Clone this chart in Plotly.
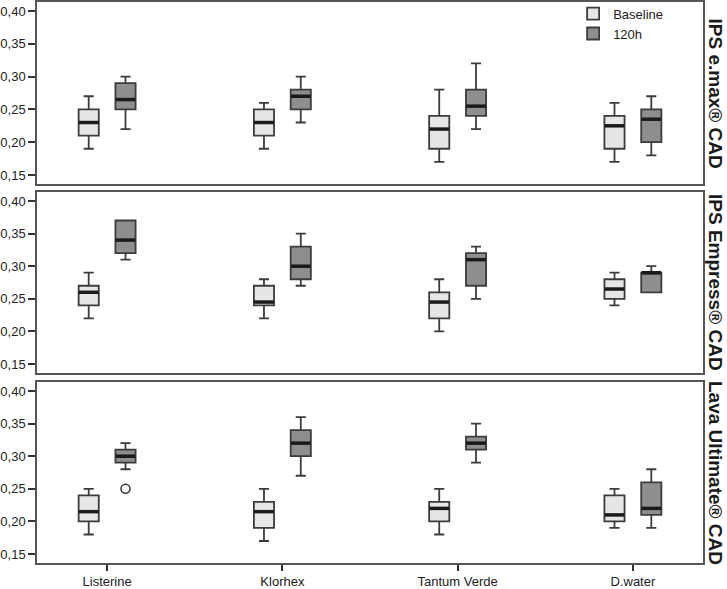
import plotly.graph_objects as go

# categories and panels
categories = ['Listerine', 'Klorhex', 'Tantum Verde', 'D.water']
panels = ['IPS e.max® CAD', 'IPS Empress® CAD', 'Lava Ultimate® CAD']

# box stats per panel: [low whisker, q1, median, q3, high whisker] per category
emax_base_low = [0.19, 0.19, 0.17, 0.17]
emax_base_q1 = [0.21, 0.21, 0.19, 0.19]
emax_base_med = [0.23, 0.23, 0.22, 0.225]
emax_base_q3 = [0.25, 0.25, 0.24, 0.24]
emax_base_high = [0.27, 0.26, 0.28, 0.26]
emax_120_low = [0.22, 0.23, 0.22, 0.18]
emax_120_q1 = [0.25, 0.25, 0.24, 0.20]
emax_120_med = [0.265, 0.27, 0.255, 0.235]
emax_120_q3 = [0.29, 0.28, 0.28, 0.25]
emax_120_high = [0.30, 0.30, 0.32, 0.27]

empress_base_low = [0.22, 0.22, 0.20, 0.24]
empress_base_q1 = [0.24, 0.24, 0.22, 0.25]
empress_base_med = [0.26, 0.245, 0.245, 0.265]
empress_base_q3 = [0.27, 0.27, 0.26, 0.28]
empress_base_high = [0.29, 0.28, 0.28, 0.29]
empress_120_low = [0.31, 0.27, 0.25, 0.26]
empress_120_q1 = [0.32, 0.28, 0.27, 0.26]
empress_120_med = [0.34, 0.30, 0.31, 0.29]
empress_120_q3 = [0.37, 0.33, 0.32, 0.29]
empress_120_high = [0.37, 0.35, 0.33, 0.30]

lava_base_low = [0.18, 0.17, 0.18, 0.19]
lava_base_q1 = [0.20, 0.19, 0.20, 0.20]
lava_base_med = [0.215, 0.215, 0.22, 0.21]
lava_base_q3 = [0.24, 0.23, 0.23, 0.24]
lava_base_high = [0.25, 0.25, 0.25, 0.25]
lava_120_low = [0.28, 0.27, 0.29, 0.19]
lava_120_q1 = [0.29, 0.30, 0.31, 0.21]
lava_120_med = [0.30, 0.32, 0.32, 0.22]
lava_120_q3 = [0.31, 0.34, 0.33, 0.26]
lava_120_high = [0.32, 0.36, 0.35, 0.28]

# outliers (panel index, category index, value)
outlier_panel = [2]
outlier_cat = [0]
outlier_val = [0.25]

stats = [
    [(emax_base_low, emax_base_q1, emax_base_med, emax_base_q3, emax_base_high),
     (emax_120_low, emax_120_q1, emax_120_med, emax_120_q3, emax_120_high)],
    [(empress_base_low, empress_base_q1, empress_base_med, empress_base_q3, empress_base_high),
     (empress_120_low, empress_120_q1, empress_120_med, empress_120_q3, empress_120_high)],
    [(lava_base_low, lava_base_q1, lava_base_med, lava_base_q3, lava_base_high),
     (lava_120_low, lava_120_q1, lava_120_med, lava_120_q3, lava_120_high)],
]

series_names = ['Baseline', '120h']
fills = ['#e6e6e6', '#8e8e8e']
offsets = [-0.105, 0.105]
box_w = 0.115
edge = '#3c3c3c'

domains = [[0.6756, 1.0], [0.3387, 0.6613], [0.0, 0.3226]]

fig = go.Figure()

for p in range(3):
    xa = 'x' if p == 0 else 'x%d' % (p + 1)
    ya = 'y' if p == 0 else 'y%d' % (p + 1)
    for s in range(2):
        low, q1, med, q3, high = stats[p][s]
        xs = [i + offsets[s] for i in range(len(categories))]
        fig.add_trace(go.Box(
            x=xs, q1=q1, median=med, q3=q3, lowerfence=low, upperfence=high,
            width=box_w, whiskerwidth=0.5,
            fillcolor=fills[s], line=dict(color=edge, width=1.8),
            name=series_names[s], showlegend=(p == 0), legendgroup=series_names[s],
            xaxis=xa, yaxis=ya, hoverinfo='skip'))
        # thick median bars
        fig.add_trace(go.Scatter(
            x=xs, y=med, mode='markers',
            marker=dict(symbol='line-ew', size=14,
                        line=dict(color='#1a1a1a', width=3.5)),
            showlegend=False, xaxis=xa, yaxis=ya, hoverinfo='skip'))

# outlier points
for k in range(len(outlier_val)):
    p = outlier_panel[k]
    xa = 'x' if p == 0 else 'x%d' % (p + 1)
    ya = 'y' if p == 0 else 'y%d' % (p + 1)
    fig.add_trace(go.Scatter(
        x=[outlier_cat[k] + offsets[1]], y=[outlier_val[k]], mode='markers',
        marker=dict(symbol='circle-open', size=9, color='#3c3c3c',
                    line=dict(width=1.6)),
        showlegend=False, xaxis=xa, yaxis=ya, hoverinfo='skip'))

font = 'Liberation Sans, Arial, sans-serif'
layout = dict(
    width=727, height=589,
    margin=dict(l=37, r=24, t=2, b=26, autoexpand=False),
    plot_bgcolor='white', paper_bgcolor='white',
    separators=',.',
    font=dict(family=font, size=13, color='#222'),
    showlegend=True,
    legend=dict(x=0.805, y=1.006, xanchor='left', yanchor='top',
                bgcolor='rgba(0,0,0,0)', font=dict(size=13),
                tracegroupgap=0, itemwidth=30),
)

for p in range(3):
    xkey = 'xaxis' if p == 0 else 'xaxis%d' % (p + 1)
    ykey = 'yaxis' if p == 0 else 'yaxis%d' % (p + 1)
    ya = 'y' if p == 0 else 'y%d' % (p + 1)
    xa = 'x' if p == 0 else 'x%d' % (p + 1)
    layout[xkey] = dict(
        range=[-0.4, 3.4], anchor=ya, domain=[0, 1],
        tickvals=list(range(len(categories))),
        ticktext=categories if p == 2 else [''] * len(categories),
        ticks='outside' if p == 2 else '', ticklen=6, tickwidth=1.5,
        tickcolor='#333', showgrid=False, zeroline=False,
        showline=True, linecolor='#555', linewidth=1.5, mirror=True,
        showticklabels=(p == 2), tickfont=dict(size=13))
    layout[ykey] = dict(
        range=[0.1363, 0.4137], anchor=xa, domain=domains[p],
        tickvals=[0.15, 0.20, 0.25, 0.30, 0.35, 0.40], tickformat='.2f',
        ticks='outside', ticklen=7, tickwidth=1.5, tickcolor='#333',
        showgrid=False, zeroline=False,
        showline=True, linecolor='#555', linewidth=1.5, mirror=True,
        tickfont=dict(size=13))

fig.update_layout(**layout)

for p in range(3):
    d = domains[p]
    fig.add_annotation(
        text='<b>%s</b>' % panels[p], xref='paper', yref='paper',
        x=1.0, y=(d[0] + d[1]) / 2, xanchor='left', yanchor='middle',
        xshift=0, textangle=90, showarrow=False,
        font=dict(size=19, color='#1a1a1a', family=font))

# drop the default page margin so the figure sits at the window origin
fig.write_html('out.html', config={'displayModeBar': False},
               post_script="document.body.style.margin='0px';")
